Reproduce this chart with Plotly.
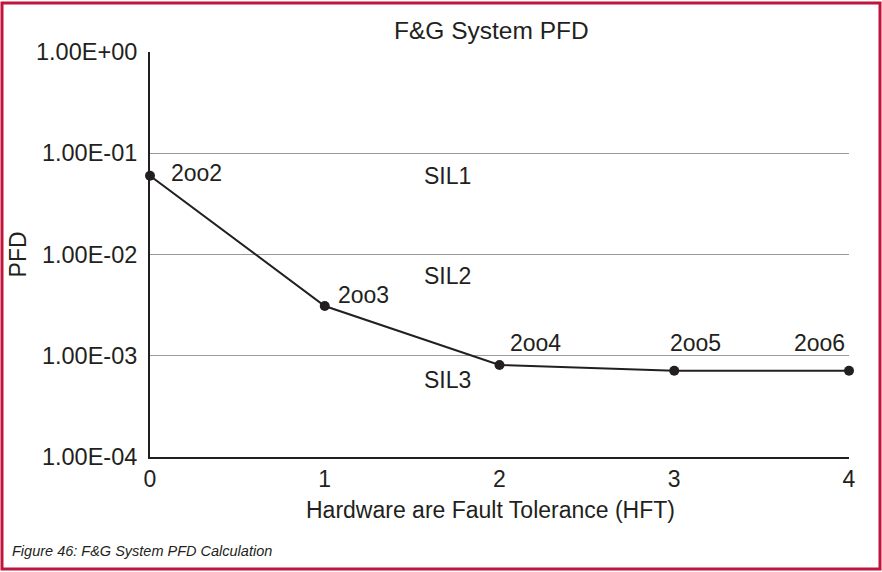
import math
import plotly.graph_objects as go

# Probability of failure on demand per architecture
hft = [0, 1, 2, 3, 4]
pfd = [0.06, 0.0031, 0.00081, 0.00071, 0.00071]
voting = ["2oo2", "2oo3", "2oo4", "2oo5", "2oo6"]

y_tickvals = [1, 0.1, 0.01, 0.001, 0.0001]
y_ticktext = ["1.00E+00", "1.00E-01", "1.00E-02", "1.00E-03", "1.00E-04"]

sil_names = ["SIL1", "SIL2", "SIL3"]
sil_label_y = [0.0596, 0.00614, 0.000575]

ink = "#231f20"
frame = "#c0143c"
font = "Liberation Sans, Arial, sans-serif"

fig = go.Figure()
fig.add_trace(go.Scatter(
    x=hft, y=pfd, mode="lines+markers",
    line=dict(color=ink, width=2),
    marker=dict(color=ink, size=10),
    cliponaxis=False, showlegend=False, hoverinfo="x+y",
))

annotations = []
# voting architecture labels (log axis: annotation y is given as log10)
offsets = [(19, 3, "left"), (11, 11, "left"), (8, 22, "left"), (-6, 28, "left"), (-2, 28, "right")]
for x, y, t, (dx, dy, al) in zip(hft, pfd, voting, offsets):
    annotations.append(dict(
        x=x, y=math.log10(y), xref="x", yref="y", text=t, showarrow=False,
        xanchor=al, yanchor="middle", xshift=dx, yshift=dy,
        font=dict(size=23, color=ink, family=font),
    ))
for name, yv in zip(sil_names, sil_label_y):
    annotations.append(dict(
        x=1.574, y=math.log10(yv), xref="x", yref="y", text=name, showarrow=False,
        xanchor="left", yanchor="middle", xshift=-3,
        font=dict(size=23, color=ink, family=font),
    ))
# chart title, axis titles, caption
annotations += [
    dict(xref="paper", yref="paper", x=0.488, y=1.0, yshift=22, yanchor="middle",
         text="F&G System PFD", showarrow=False,
         font=dict(size=24.5, color=ink, family=font)),
    dict(xref="paper", yref="paper", x=0.487, y=-0.094, text="Hardware are Fault Tolerance (HFT)",
         showarrow=False, xanchor="center", yanchor="top",
         font=dict(size=23, color=ink, family=font)),
    dict(xref="paper", yref="paper", x=-0.189, y=0.5, text="PFD", textangle=-90,
         showarrow=False, xanchor="center", yanchor="middle",
         font=dict(size=23, color=ink, family=font)),
    dict(xref="paper", yref="paper", x=-0.2, y=-0.232, text="<i>Figure 46: F&G System PFD Calculation</i>",
         showarrow=False, xanchor="left", yanchor="middle",
         font=dict(size=14.5, color=ink, family=font)),
]

pw = 849 - 150
ph = 457 - 52
def px(xp):
    return (xp - 150) / pw
def py(yp):
    return (457 - yp) / ph

shapes = [
    dict(type="rect", xref="paper", yref="paper",
         x0=px(2), x1=px(880), y0=py(569), y1=py(3),
         line=dict(color=frame, width=3), fillcolor="rgba(0,0,0,0)", layer="below"),
]

fig.update_layout(
    width=882, height=572,
    margin=dict(l=150, r=33, t=52, b=115),
    paper_bgcolor="white", plot_bgcolor="white",
    font=dict(family=font, size=23, color=ink),
    annotations=annotations, shapes=shapes,
    xaxis=dict(range=[0, 4], tickvals=hft, showgrid=False, zeroline=False,
               showline=True, linecolor=ink, linewidth=2, ticks="",
               tickfont=dict(size=23, color=ink)),
    yaxis=dict(type="log", range=[-4, 0], tickvals=y_tickvals, ticktext=y_ticktext,
               showgrid=True, gridcolor="#9a9a9a", gridwidth=1, zeroline=False,
               showline=True, linecolor=ink, linewidth=2, ticks="", ticklen=0,
               ticklabelstandoff=6,
               tickfont=dict(size=23.5, color=ink)),
)

fig.write_html("out.html")
